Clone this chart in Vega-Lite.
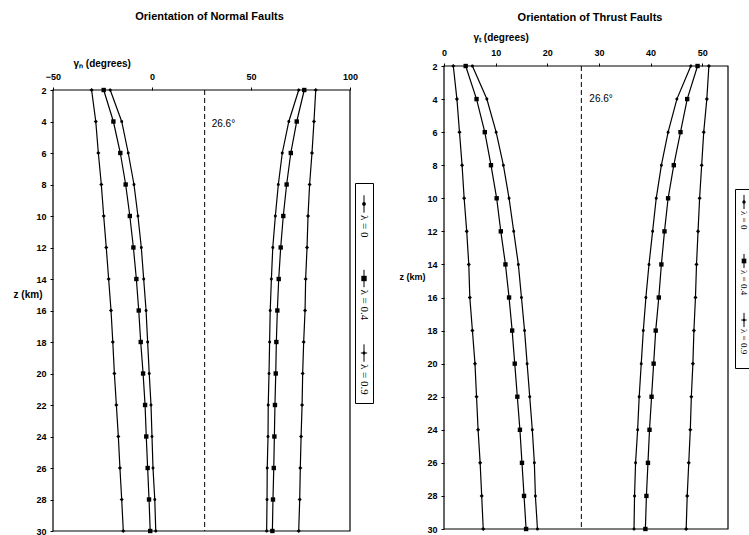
{
  "$schema": "https://vega.github.io/schema/vega-lite/v6.json",
  "padding": {"left": 13, "top": 11, "right": 0, "bottom": 0},
  "background": "white",
  "bounds": "full",
  "spacing": 24,
  "resolve": {"scale": {"shape": "independent"}},
  "config": {
    "view": {"stroke": null},
    "axis": {"grid": false, "domain": false, "tickColor": "black", "tickSize": 3, "labelColor": "black", "labelFont": "Liberation Sans", "labelFontWeight": "bold", "labelFontSize": 9, "titleFont": "Liberation Sans", "titleFontWeight": "bold", "titleFontSize": 10, "titleColor": "black", "labelFlush": false, "labelOverlap": false},
    "title": {"font": "Liberation Sans", "fontWeight": "bold", "fontSize": 11, "color": "black", "frame": "group"}
  },
  "datasets": {
    "normal": [
      {"l":"λ = 0","s":"L","z":2,"v":-21.1},{"l":"λ = 0","s":"L","z":4,"v":-15.3},{"l":"λ = 0","s":"L","z":6,"v":-12.0},{"l":"λ = 0","s":"L","z":8,"v":-9.1},{"l":"λ = 0","s":"L","z":10,"v":-7.1},{"l":"λ = 0","s":"L","z":12,"v":-5.4},{"l":"λ = 0","s":"L","z":14,"v":-4.2},{"l":"λ = 0","s":"L","z":16,"v":-3.0},{"l":"λ = 0","s":"L","z":18,"v":-2.2},{"l":"λ = 0","s":"L","z":20,"v":-1.4},{"l":"λ = 0","s":"L","z":22,"v":-0.5},{"l":"λ = 0","s":"L","z":24,"v":0.0},{"l":"λ = 0","s":"L","z":26,"v":0.5},{"l":"λ = 0","s":"L","z":28,"v":1.4},{"l":"λ = 0","s":"L","z":30,"v":1.9},
      {"l":"λ = 0","s":"R","z":2,"v":74.1},{"l":"λ = 0","s":"R","z":4,"v":69.1},{"l":"λ = 0","s":"R","z":6,"v":65.8},{"l":"λ = 0","s":"R","z":8,"v":63.8},{"l":"λ = 0","s":"R","z":10,"v":62.3},{"l":"λ = 0","s":"R","z":12,"v":61.0},{"l":"λ = 0","s":"R","z":14,"v":60.3},{"l":"λ = 0","s":"R","z":16,"v":59.7},{"l":"λ = 0","s":"R","z":18,"v":59.4},{"l":"λ = 0","s":"R","z":20,"v":59.1},{"l":"λ = 0","s":"R","z":22,"v":58.7},{"l":"λ = 0","s":"R","z":24,"v":58.6},{"l":"λ = 0","s":"R","z":26,"v":58.2},{"l":"λ = 0","s":"R","z":28,"v":58.1},{"l":"λ = 0","s":"R","z":30,"v":57.9},
      {"l":"λ = 0.4","s":"L","z":2,"v":-24.4},{"l":"λ = 0.4","s":"L","z":4,"v":-19.5},{"l":"λ = 0.4","s":"L","z":6,"v":-16.0},{"l":"λ = 0.4","s":"L","z":8,"v":-13.3},{"l":"λ = 0.4","s":"L","z":10,"v":-11.2},{"l":"λ = 0.4","s":"L","z":12,"v":-9.4},{"l":"λ = 0.4","s":"L","z":14,"v":-7.9},{"l":"λ = 0.4","s":"L","z":16,"v":-6.7},{"l":"λ = 0.4","s":"L","z":18,"v":-5.7},{"l":"λ = 0.4","s":"L","z":20,"v":-4.5},{"l":"λ = 0.4","s":"L","z":22,"v":-3.5},{"l":"λ = 0.4","s":"L","z":24,"v":-2.9},{"l":"λ = 0.4","s":"L","z":26,"v":-2.2},{"l":"λ = 0.4","s":"L","z":28,"v":-1.5},{"l":"λ = 0.4","s":"L","z":30,"v":-0.9},
      {"l":"λ = 0.4","s":"R","z":2,"v":76.9},{"l":"λ = 0.4","s":"R","z":4,"v":73.1},{"l":"λ = 0.4","s":"R","z":6,"v":70.1},{"l":"λ = 0.4","s":"R","z":8,"v":68.0},{"l":"λ = 0.4","s":"R","z":10,"v":66.3},{"l":"λ = 0.4","s":"R","z":12,"v":65.0},{"l":"λ = 0.4","s":"R","z":14,"v":64.0},{"l":"λ = 0.4","s":"R","z":16,"v":63.3},{"l":"λ = 0.4","s":"R","z":18,"v":62.8},{"l":"λ = 0.4","s":"R","z":20,"v":62.5},{"l":"λ = 0.4","s":"R","z":22,"v":62.1},{"l":"λ = 0.4","s":"R","z":24,"v":61.8},{"l":"λ = 0.4","s":"R","z":26,"v":61.5},{"l":"λ = 0.4","s":"R","z":28,"v":61.1},{"l":"λ = 0.4","s":"R","z":30,"v":60.8},
      {"l":"λ = 0.9","s":"L","z":2,"v":-30.5},{"l":"λ = 0.9","s":"L","z":4,"v":-28.4},{"l":"λ = 0.9","s":"L","z":6,"v":-27.1},{"l":"λ = 0.9","s":"L","z":8,"v":-25.6},{"l":"λ = 0.9","s":"L","z":10,"v":-24.4},{"l":"λ = 0.9","s":"L","z":12,"v":-23.1},{"l":"λ = 0.9","s":"L","z":14,"v":-21.9},{"l":"λ = 0.9","s":"L","z":16,"v":-20.7},{"l":"λ = 0.9","s":"L","z":18,"v":-19.8},{"l":"λ = 0.9","s":"L","z":20,"v":-19.0},{"l":"λ = 0.9","s":"L","z":22,"v":-18.0},{"l":"λ = 0.9","s":"L","z":24,"v":-17.0},{"l":"λ = 0.9","s":"L","z":26,"v":-16.2},{"l":"λ = 0.9","s":"L","z":28,"v":-15.3},{"l":"λ = 0.9","s":"L","z":30,"v":-14.5},
      {"l":"λ = 0.9","s":"R","z":2,"v":82.7},{"l":"λ = 0.9","s":"R","z":4,"v":81.8},{"l":"λ = 0.9","s":"R","z":6,"v":80.8},{"l":"λ = 0.9","s":"R","z":8,"v":79.6},{"l":"λ = 0.9","s":"R","z":10,"v":78.8},{"l":"λ = 0.9","s":"R","z":12,"v":78.3},{"l":"λ = 0.9","s":"R","z":14,"v":77.6},{"l":"λ = 0.9","s":"R","z":16,"v":77.3},{"l":"λ = 0.9","s":"R","z":18,"v":76.6},{"l":"λ = 0.9","s":"R","z":20,"v":76.1},{"l":"λ = 0.9","s":"R","z":22,"v":75.8},{"l":"λ = 0.9","s":"R","z":24,"v":75.3},{"l":"λ = 0.9","s":"R","z":26,"v":74.9},{"l":"λ = 0.9","s":"R","z":28,"v":74.6},{"l":"λ = 0.9","s":"R","z":30,"v":74.1}
    ],
    "thrust": [
      {"l":"λ = 0","s":"L","z":2,"v":5.5},{"l":"λ = 0","s":"L","z":4,"v":8.3},{"l":"λ = 0","s":"L","z":6,"v":10.1},{"l":"λ = 0","s":"L","z":8,"v":11.5},{"l":"λ = 0","s":"L","z":10,"v":12.6},{"l":"λ = 0","s":"L","z":12,"v":13.5},{"l":"λ = 0","s":"L","z":14,"v":14.4},{"l":"λ = 0","s":"L","z":16,"v":15.0},{"l":"λ = 0","s":"L","z":18,"v":15.6},{"l":"λ = 0","s":"L","z":20,"v":16.1},{"l":"λ = 0","s":"L","z":22,"v":16.6},{"l":"λ = 0","s":"L","z":24,"v":17.1},{"l":"λ = 0","s":"L","z":26,"v":17.5},{"l":"λ = 0","s":"L","z":28,"v":17.7},{"l":"λ = 0","s":"L","z":30,"v":18.1},
      {"l":"λ = 0","s":"R","z":2,"v":47.8},{"l":"λ = 0","s":"R","z":4,"v":45.1},{"l":"λ = 0","s":"R","z":6,"v":43.4},{"l":"λ = 0","s":"R","z":8,"v":42.1},{"l":"λ = 0","s":"R","z":10,"v":41.1},{"l":"λ = 0","s":"R","z":12,"v":40.4},{"l":"λ = 0","s":"R","z":14,"v":39.7},{"l":"λ = 0","s":"R","z":16,"v":39.1},{"l":"λ = 0","s":"R","z":18,"v":38.6},{"l":"λ = 0","s":"R","z":20,"v":38.2},{"l":"λ = 0","s":"R","z":22,"v":37.8},{"l":"λ = 0","s":"R","z":24,"v":37.5},{"l":"λ = 0","s":"R","z":26,"v":37.1},{"l":"λ = 0","s":"R","z":28,"v":36.9},{"l":"λ = 0","s":"R","z":30,"v":36.8},
      {"l":"λ = 0.4","s":"L","z":2,"v":4.2},{"l":"λ = 0.4","s":"L","z":4,"v":6.3},{"l":"λ = 0.4","s":"L","z":6,"v":7.9},{"l":"λ = 0.4","s":"L","z":8,"v":9.1},{"l":"λ = 0.4","s":"L","z":10,"v":10.2},{"l":"λ = 0.4","s":"L","z":12,"v":11.0},{"l":"λ = 0.4","s":"L","z":14,"v":11.9},{"l":"λ = 0.4","s":"L","z":16,"v":12.6},{"l":"λ = 0.4","s":"L","z":18,"v":13.2},{"l":"λ = 0.4","s":"L","z":20,"v":13.7},{"l":"λ = 0.4","s":"L","z":22,"v":14.2},{"l":"λ = 0.4","s":"L","z":24,"v":14.7},{"l":"λ = 0.4","s":"L","z":26,"v":15.1},{"l":"λ = 0.4","s":"L","z":28,"v":15.5},{"l":"λ = 0.4","s":"L","z":30,"v":15.9},
      {"l":"λ = 0.4","s":"R","z":2,"v":49.1},{"l":"λ = 0.4","s":"R","z":4,"v":47.1},{"l":"λ = 0.4","s":"R","z":6,"v":45.8},{"l":"λ = 0.4","s":"R","z":8,"v":44.5},{"l":"λ = 0.4","s":"R","z":10,"v":43.4},{"l":"λ = 0.4","s":"R","z":12,"v":42.7},{"l":"λ = 0.4","s":"R","z":14,"v":42.1},{"l":"λ = 0.4","s":"R","z":16,"v":41.6},{"l":"λ = 0.4","s":"R","z":18,"v":41.0},{"l":"λ = 0.4","s":"R","z":20,"v":40.6},{"l":"λ = 0.4","s":"R","z":22,"v":40.2},{"l":"λ = 0.4","s":"R","z":24,"v":39.8},{"l":"λ = 0.4","s":"R","z":26,"v":39.5},{"l":"λ = 0.4","s":"R","z":28,"v":39.2},{"l":"λ = 0.4","s":"R","z":30,"v":39.0},
      {"l":"λ = 0.9","s":"L","z":2,"v":1.8},{"l":"λ = 0.9","s":"L","z":4,"v":2.5},{"l":"λ = 0.9","s":"L","z":6,"v":3.0},{"l":"λ = 0.9","s":"L","z":8,"v":3.5},{"l":"λ = 0.9","s":"L","z":10,"v":3.9},{"l":"λ = 0.9","s":"L","z":12,"v":4.4},{"l":"λ = 0.9","s":"L","z":14,"v":4.8},{"l":"λ = 0.9","s":"L","z":16,"v":5.0},{"l":"λ = 0.9","s":"L","z":18,"v":5.5},{"l":"λ = 0.9","s":"L","z":20,"v":6.0},{"l":"λ = 0.9","s":"L","z":22,"v":6.3},{"l":"λ = 0.9","s":"L","z":24,"v":6.6},{"l":"λ = 0.9","s":"L","z":26,"v":7.0},{"l":"λ = 0.9","s":"L","z":28,"v":7.3},{"l":"λ = 0.9","s":"L","z":30,"v":7.6},
      {"l":"λ = 0.9","s":"R","z":2,"v":51.3},{"l":"λ = 0.9","s":"R","z":4,"v":50.9},{"l":"λ = 0.9","s":"R","z":6,"v":50.3},{"l":"λ = 0.9","s":"R","z":8,"v":49.9},{"l":"λ = 0.9","s":"R","z":10,"v":49.5},{"l":"λ = 0.9","s":"R","z":12,"v":49.2},{"l":"λ = 0.9","s":"R","z":14,"v":48.9},{"l":"λ = 0.9","s":"R","z":16,"v":48.7},{"l":"λ = 0.9","s":"R","z":18,"v":48.4},{"l":"λ = 0.9","s":"R","z":20,"v":48.2},{"l":"λ = 0.9","s":"R","z":22,"v":47.9},{"l":"λ = 0.9","s":"R","z":24,"v":47.7},{"l":"λ = 0.9","s":"R","z":26,"v":47.4},{"l":"λ = 0.9","s":"R","z":28,"v":47.1},{"l":"λ = 0.9","s":"R","z":30,"v":46.9}
    ],
    "ref": [{"angle": 26.6, "z": 4, "label": "26.6°"}],
    "lam": [{"l": "λ = 0"}, {"l": "λ = 0.4"}, {"l": "λ = 0.9"}]
  },
  "hconcat": [
    {
      "hconcat": [
        {
          "width": 297,
          "height": 465,
          "title": {"text": "Orientation of Normal Faults", "dx": 8, "offset": 36},
          "layer": [
            {"data": {"name": "ref"},
             "mark": {"type": "rect", "filled": false, "stroke": "black", "strokeWidth": 1.2},
             "encoding": {
               "x": {"datum": -50, "type": "quantitative", "scale": {"domain": [-50, 100], "nice": false, "zero": false},
                     "axis": {"orient": "top", "offset": -24, "values": [-50, 0, 50, 100], "title": "γₙ (degrees)", "titleX": 20, "titleAlign": "left", "titlePadding": 4, "labelPadding": 6}},
               "x2": {"datum": 100},
               "y": {"datum": 2, "type": "quantitative", "scale": {"domain": [2, 30], "range": [24, 465], "nice": false, "zero": false},
                     "axis": {"values": [2,4,6,8,10,12,14,16,18,20,22,24,26,28,30], "labelOverlap": false, "title": "z (km)", "titleAngle": 0, "titleAlign": "right", "titleBaseline": "middle", "titleX": -11, "titleY": 228, "labelPadding": 4}},
               "y2": {"datum": 30}
             }},
            {"data": {"name": "ref"},
             "mark": {"type": "rule", "color": "black", "strokeWidth": 1, "strokeDash": [5, 3]},
             "encoding": {
               "x": {"field": "angle", "type": "quantitative", "scale": {"domain": [-50, 100], "nice": false, "zero": false},
                     "axis": {"orient": "top", "offset": -24, "values": [-50, 0, 50, 100], "title": "γₙ (degrees)", "titleX": 20, "titleAlign": "left", "titlePadding": 4, "labelPadding": 6}},
               "y": {"datum": 2, "type": "quantitative", "scale": {"domain": [2, 30], "range": [24, 465], "nice": false, "zero": false},
                     "axis": {"values": [2,4,6,8,10,12,14,16,18,20,22,24,26,28,30], "labelOverlap": false, "title": "z (km)", "titleAngle": 0, "titleAlign": "right", "titleBaseline": "middle", "titleX": -11, "titleY": 228, "labelPadding": 4}},
               "y2": {"datum": 30}
             }},
            {"data": {"name": "ref"},
             "mark": {"type": "text", "align": "left", "baseline": "middle", "dx": 7, "dy": 2, "font": "Liberation Sans", "fontSize": 10, "color": "black"},
             "encoding": {
               "x": {"field": "angle", "type": "quantitative", "scale": {"domain": [-50, 100], "nice": false, "zero": false},
                     "axis": {"orient": "top", "offset": -24, "values": [-50, 0, 50, 100], "title": "γₙ (degrees)", "titleX": 20, "titleAlign": "left", "titlePadding": 4, "labelPadding": 6}},
               "y": {"field": "z", "type": "quantitative", "scale": {"domain": [2, 30], "range": [24, 465], "nice": false, "zero": false},
                     "axis": {"values": [2,4,6,8,10,12,14,16,18,20,22,24,26,28,30], "labelOverlap": false, "title": "z (km)", "titleAngle": 0, "titleAlign": "right", "titleBaseline": "middle", "titleX": -11, "titleY": 228, "labelPadding": 4}},
               "text": {"field": "label"}
             }},
            {"data": {"name": "normal"},
             "mark": {"type": "line", "color": "black", "strokeWidth": 1.2},
             "encoding": {
               "x": {"field": "v", "type": "quantitative", "scale": {"domain": [-50, 100], "nice": false, "zero": false},
                     "axis": {"orient": "top", "offset": -24, "values": [-50, 0, 50, 100], "title": "γₙ (degrees)", "titleX": 20, "titleAlign": "left", "titlePadding": 4, "labelPadding": 6}},
               "y": {"field": "z", "type": "quantitative", "scale": {"domain": [2, 30], "range": [24, 465], "nice": false, "zero": false},
                     "axis": {"values": [2,4,6,8,10,12,14,16,18,20,22,24,26,28,30], "labelOverlap": false, "title": "z (km)", "titleAngle": 0, "titleAlign": "right", "titleBaseline": "middle", "titleX": -11, "titleY": 228, "labelPadding": 4}},
               "detail": [{"field": "l"}, {"field": "s"}],
               "order": {"field": "z", "type": "quantitative"}
             }},
            {"data": {"name": "normal"},
             "mark": {"type": "point", "filled": true, "color": "black", "opacity": 1, "size": 30},
             "encoding": {
               "x": {"field": "v", "type": "quantitative", "scale": {"domain": [-50, 100], "nice": false, "zero": false},
                     "axis": {"orient": "top", "offset": -24, "values": [-50, 0, 50, 100], "title": "γₙ (degrees)", "titleX": 20, "titleAlign": "left", "titlePadding": 4, "labelPadding": 6}},
               "y": {"field": "z", "type": "quantitative", "scale": {"domain": [2, 30], "range": [24, 465], "nice": false, "zero": false},
                     "axis": {"values": [2,4,6,8,10,12,14,16,18,20,22,24,26,28,30], "labelOverlap": false, "title": "z (km)", "titleAngle": 0, "titleAlign": "right", "titleBaseline": "middle", "titleX": -11, "titleY": 228, "labelPadding": 4}},
               "shape": {"field": "l", "type": "nominal", "legend": null,
                 "scale": {"domain": ["λ = 0", "λ = 0.4", "λ = 0.9"], "range": ["M-0.55,0A0.55,0.55,0,1,1,0.55,0A0.55,0.55,0,1,1,-0.55,0Z", "M-0.8,-0.8H0.8V0.8H-0.8Z", "M0,-0.75L0.75,0L0,0.75L-0.75,0Z"]}}
             }}
          ]
        },
        {
          "vconcat": [
            {"width": 18, "height": 112, "data": {"values": []}, "mark": {"type": "point", "opacity": 0}},
            {
              "width": 18,
              "height": 220,
              "view": {"stroke": "black", "strokeWidth": 1},
              "data": {"name": "lam"},
              "encoding": {"y": {"field": "l", "type": "nominal", "scale": {"type": "point", "domain": ["λ = 0", "λ = 0.4", "λ = 0.9"], "range": [21, 170], "padding": 0}, "axis": null}},
              "layer": [
                {"mark": {"type": "point", "shape": "M0,-1L0,1", "size": 300, "filled": false, "stroke": "black", "strokeWidth": 1, "opacity": 1}},
                {"mark": {"type": "point", "filled": true, "color": "black", "opacity": 1, "size": 40},
                 "encoding": {"shape": {"field": "l", "type": "nominal", "legend": null,
                   "scale": {"domain": ["λ = 0", "λ = 0.4", "λ = 0.9"], "range": ["M-0.6,0A0.6,0.6,0,1,1,0.6,0A0.6,0.6,0,1,1,-0.6,0Z", "M-0.85,-0.85H0.85V0.85H-0.85Z", "M-1,-0.15H1V0.15H-1ZM-0.5,0A0.5,0.5,0,1,1,0.5,0A0.5,0.5,0,1,1,-0.5,0Z"]}}}},
                {"mark": {"type": "text", "angle": 90, "align": "left", "baseline": "middle", "dx": 11, "font": "Liberation Serif", "fontSize": 11, "color": "black"},
                 "encoding": {"text": {"field": "l"}}}
              ]
            }
          ],
          "spacing": 5,
          "bounds": "flush"
        }
      ],
      "spacing": 5,
      "bounds": "flush",
      "resolve": {"scale": {"shape": "independent"}}
    },
    {
      "hconcat": [
        {
          "width": 284,
          "height": 463,
          "title": {"text": "Orientation of Thrust Faults", "dx": 4, "offset": 9},
          "layer": [
            {"data": {"name": "ref"},
             "mark": {"type": "rect", "filled": false, "stroke": "black", "strokeWidth": 1.2},
             "encoding": {
               "x": {"datum": 0, "type": "quantitative", "scale": {"domain": [0, 55], "nice": false, "zero": false},
                     "axis": {"orient": "top", "values": [0, 10, 20, 30, 40, 50], "title": "γₜ (degrees)", "titleX": 29, "titleAlign": "left", "titlePadding": 6, "labelPadding": 6}},
               "x2": {"datum": 55},
               "y": {"datum": 2, "type": "quantitative", "scale": {"domain": [2, 30], "range": [0, 463], "nice": false, "zero": false},
                     "axis": {"values": [2,4,6,8,10,12,14,16,18,20,22,24,26,28,30], "labelOverlap": false, "title": "z (km)", "titleAngle": 0, "titleAlign": "right", "titleBaseline": "middle", "titleFontSize": 9, "titleX": -19, "titleY": 210, "labelPadding": 4}},
               "y2": {"datum": 30}
             }},
            {"data": {"name": "ref"},
             "mark": {"type": "rule", "color": "black", "strokeWidth": 1, "strokeDash": [5, 3]},
             "encoding": {
               "x": {"field": "angle", "type": "quantitative", "scale": {"domain": [0, 55], "nice": false, "zero": false},
                     "axis": {"orient": "top", "values": [0, 10, 20, 30, 40, 50], "title": "γₜ (degrees)", "titleX": 29, "titleAlign": "left", "titlePadding": 6, "labelPadding": 6}},
               "y": {"datum": 2, "type": "quantitative", "scale": {"domain": [2, 30], "range": [0, 463], "nice": false, "zero": false},
                     "axis": {"values": [2,4,6,8,10,12,14,16,18,20,22,24,26,28,30], "labelOverlap": false, "title": "z (km)", "titleAngle": 0, "titleAlign": "right", "titleBaseline": "middle", "titleFontSize": 9, "titleX": -19, "titleY": 210, "labelPadding": 4}},
               "y2": {"datum": 30}
             }},
            {"data": {"name": "ref"},
             "mark": {"type": "text", "align": "left", "baseline": "middle", "dx": 8, "dy": 0, "font": "Liberation Sans", "fontSize": 10, "color": "black"},
             "encoding": {
               "x": {"field": "angle", "type": "quantitative", "scale": {"domain": [0, 55], "nice": false, "zero": false},
                     "axis": {"orient": "top", "values": [0, 10, 20, 30, 40, 50], "title": "γₜ (degrees)", "titleX": 29, "titleAlign": "left", "titlePadding": 6, "labelPadding": 6}},
               "y": {"field": "z", "type": "quantitative", "scale": {"domain": [2, 30], "range": [0, 463], "nice": false, "zero": false},
                     "axis": {"values": [2,4,6,8,10,12,14,16,18,20,22,24,26,28,30], "labelOverlap": false, "title": "z (km)", "titleAngle": 0, "titleAlign": "right", "titleBaseline": "middle", "titleFontSize": 9, "titleX": -19, "titleY": 210, "labelPadding": 4}},
               "text": {"field": "label"}
             }},
            {"data": {"name": "thrust"},
             "mark": {"type": "line", "color": "black", "strokeWidth": 1.2},
             "encoding": {
               "x": {"field": "v", "type": "quantitative", "scale": {"domain": [0, 55], "nice": false, "zero": false},
                     "axis": {"orient": "top", "values": [0, 10, 20, 30, 40, 50], "title": "γₜ (degrees)", "titleX": 29, "titleAlign": "left", "titlePadding": 6, "labelPadding": 6}},
               "y": {"field": "z", "type": "quantitative", "scale": {"domain": [2, 30], "range": [0, 463], "nice": false, "zero": false},
                     "axis": {"values": [2,4,6,8,10,12,14,16,18,20,22,24,26,28,30], "labelOverlap": false, "title": "z (km)", "titleAngle": 0, "titleAlign": "right", "titleBaseline": "middle", "titleFontSize": 9, "titleX": -19, "titleY": 210, "labelPadding": 4}},
               "detail": [{"field": "l"}, {"field": "s"}],
               "order": {"field": "z", "type": "quantitative"}
             }},
            {"data": {"name": "thrust"},
             "mark": {"type": "point", "filled": true, "color": "black", "opacity": 1, "size": 30},
             "encoding": {
               "x": {"field": "v", "type": "quantitative", "scale": {"domain": [0, 55], "nice": false, "zero": false},
                     "axis": {"orient": "top", "values": [0, 10, 20, 30, 40, 50], "title": "γₜ (degrees)", "titleX": 29, "titleAlign": "left", "titlePadding": 6, "labelPadding": 6}},
               "y": {"field": "z", "type": "quantitative", "scale": {"domain": [2, 30], "range": [0, 463], "nice": false, "zero": false},
                     "axis": {"values": [2,4,6,8,10,12,14,16,18,20,22,24,26,28,30], "labelOverlap": false, "title": "z (km)", "titleAngle": 0, "titleAlign": "right", "titleBaseline": "middle", "titleFontSize": 9, "titleX": -19, "titleY": 210, "labelPadding": 4}},
               "shape": {"field": "l", "type": "nominal", "legend": null,
                 "scale": {"domain": ["λ = 0", "λ = 0.4", "λ = 0.9"], "range": ["M-0.55,0A0.55,0.55,0,1,1,0.55,0A0.55,0.55,0,1,1,-0.55,0Z", "M-0.8,-0.8H0.8V0.8H-0.8Z", "M0,-0.75L0.75,0L0,0.75L-0.75,0Z"]}}
             }}
          ]
        },
        {
          "vconcat": [
            {"width": 18, "height": 118, "data": {"values": []}, "mark": {"type": "point", "opacity": 0}},
            {
              "width": 18,
              "height": 179,
              "view": {"stroke": "black", "strokeWidth": 1},
              "data": {"name": "lam"},
              "encoding": {"y": {"field": "l", "type": "nominal", "scale": {"type": "point", "domain": ["λ = 0", "λ = 0.4", "λ = 0.9"], "range": [13, 131], "padding": 0}, "axis": null}},
              "layer": [
                {"mark": {"type": "point", "shape": "M0,-1L0,1", "size": 200, "filled": false, "stroke": "black", "strokeWidth": 1, "opacity": 1}},
                {"mark": {"type": "point", "filled": true, "color": "black", "opacity": 1, "size": 30},
                 "encoding": {"shape": {"field": "l", "type": "nominal", "legend": null,
                   "scale": {"domain": ["λ = 0", "λ = 0.4", "λ = 0.9"], "range": ["M-0.6,0A0.6,0.6,0,1,1,0.6,0A0.6,0.6,0,1,1,-0.6,0Z", "M-0.85,-0.85H0.85V0.85H-0.85Z", "M-1,-0.15H1V0.15H-1ZM-0.5,0A0.5,0.5,0,1,1,0.5,0A0.5,0.5,0,1,1,-0.5,0Z"]}}}},
                {"mark": {"type": "text", "angle": 90, "align": "left", "baseline": "middle", "dx": 9, "font": "Liberation Serif", "fontSize": 9, "color": "black"},
                 "encoding": {"text": {"field": "l"}}}
              ]
            }
          ],
          "spacing": 5,
          "bounds": "flush"
        }
      ],
      "spacing": 7,
      "bounds": "flush",
      "resolve": {"scale": {"shape": "independent"}}
    }
  ]
}
